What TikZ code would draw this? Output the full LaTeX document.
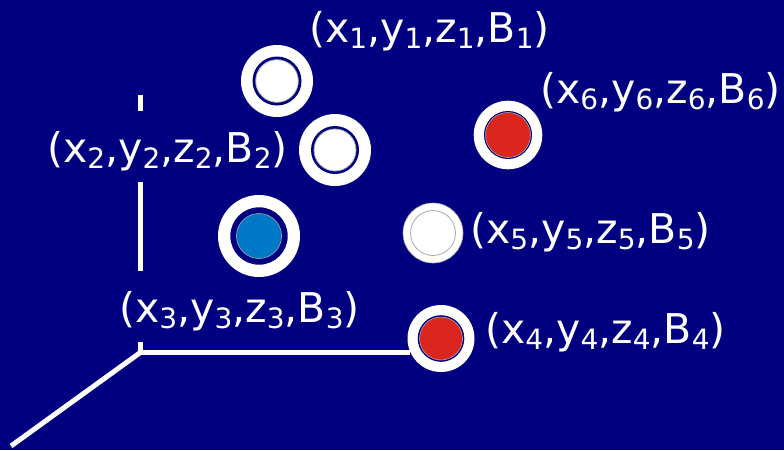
\documentclass[tikz,border=0pt]{standalone}
\usepackage{fontspec}
\setmainfont{DejaVu Sans}
\definecolor{bgnavy}{RGB}{0,0,128}
\definecolor{dotred}{RGB}{218,38,30}
\definecolor{dotblue}{RGB}{0,120,200}
\definecolor{edgegray}{RGB}{170,170,170}
\newcommand\subd[1]{\raisebox{-6pt}{\fontsize{28}{28}\selectfont #1}}
\newcommand\lab[1]{(x\subd{#1},y\subd{#1},z\subd{#1},B\subd{#1})}
\begin{document}
\begin{tikzpicture}[x=1pt,y=-1pt,
  lbl/.style={anchor=base west,inner sep=0pt,text=white,font=\fontsize{41}{41}\selectfont},
  axis/.style={white,line width=5pt}]
\fill[bgnavy] (0,0) rectangle (784,450);
\useasboundingbox (0,0) rectangle (784,450);
% axes
\draw[axis] (140,95) -- (140,111);
\draw[axis] (140,182) -- (140,271);
\draw[axis] (140,342) -- (140,352.5);
\draw[axis] (137.5,352.5) -- (410,352.5);
\draw[axis] (141,352) -- (11,446);
% circle 1
\fill[white] (277,81) circle (36);
\fill[bgnavy] (277,81) circle (24.5);
\filldraw[fill=white,draw=edgegray,line width=0.8pt] (277,81) circle (21.3);
% circle 2
\fill[white] (335,150) circle (36);
\fill[bgnavy] (335,150) circle (24);
\filldraw[fill=white,draw=edgegray,line width=0.8pt] (335,150) circle (21);
% circle 3 (blue)
\fill[white] (259,236) circle (41);
\fill[bgnavy] (259,236) circle (28.7);
\filldraw[fill=dotblue,draw=edgegray,line width=0.6pt] (259,236) circle (22.5);
% circle 6 (red)
\fill[white] (508,135) circle (34.3);
\fill[bgnavy] (508,135) circle (24);
\filldraw[fill=dotred,draw=edgegray,line width=0.6pt] (508,135) circle (22.5);
% circle 5 (white)
\filldraw[fill=white,draw=edgegray,line width=0.6pt] (433,233) circle (30);
\draw[edgegray,line width=0.8pt] (433,233) circle (22.5);
% circle 4 (red)
\fill[white] (441,338.5) circle (33.5);
\fill[bgnavy] (441,338.5) circle (23.3);
\filldraw[fill=dotred,draw=edgegray,line width=0.6pt] (441,338.5) circle (21.5);
% labels
\node[lbl] (l1) at (309,42) {\lab{1}};
\node[lbl] (l2) at (47,162) {\lab{2}};
\node[lbl] (l3) at (119,322) {\lab{3}};
\node[lbl] (l4) at (485,343) {\lab{4}};
\node[lbl] (l5) at (470,243) {\lab{5}};
\node[lbl] (l6) at (540,103) {\lab{6}};
\end{tikzpicture}
\end{document}
